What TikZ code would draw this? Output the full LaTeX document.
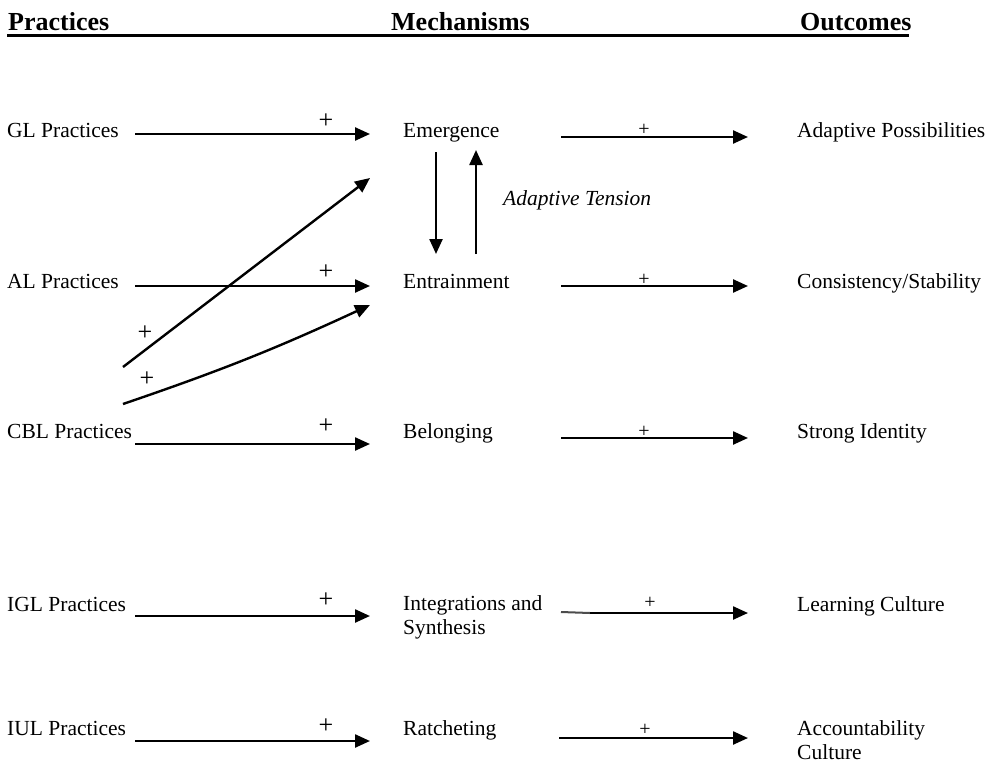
\documentclass[tikz,border=0pt]{standalone}
\usepackage{fontspec}
\setmainfont{Liberation Serif}
\usetikzlibrary{arrows.meta}
\begin{document}
\begin{tikzpicture}[x=1pt,y=-1pt,
  lbl/.style={anchor=base west, inner sep=0pt, font=\fontsize{21.5}{24}\selectfont},
  hdr/.style={anchor=base west, inner sep=0pt, font=\fontsize{26}{30}\selectfont\bfseries},
  link/.style={line width=2.4pt, -{Triangle[length=15pt,width=13pt]}},
  bigplus/.style={inner sep=0pt, font=\fontsize{26}{26}\selectfont},
  smallplus/.style={inner sep=0pt, font=\fontsize{20}{20}\selectfont},
]
\useasboundingbox (0,0) rectangle (993,763);
% headers
\node[hdr] (hP) at (8,30) {Practices};
\node[hdr] (hM) at (391,30) {Mechanisms};
\node[hdr] (hO) at (800,30) {Outcomes};
\coordinate (ulA) at (7,35);
\coordinate (ulB) at (909,35);
\draw[line width=3pt] (ulA) -- (ulB);
% left labels
\node[lbl] (pGL) at (7,137) {GL Practices};
\node[lbl] (pAL) at (7,288) {AL Practices};
\node[lbl] (pCBL) at (7,438) {CBL Practices};
\node[lbl] (pIGL) at (7,611) {IGL Practices};
\node[lbl] (pIUL) at (7,735) {IUL Practices};
% mechanisms
\node[lbl] (mE) at (403,137) {Emergence};
\node[lbl] (mEn) at (403,288) {Entrainment};
\node[lbl] (mB) at (403,438) {Belonging};
\node[lbl, align=left] (mI) at (403,634) {Integrations and\\Synthesis};
\node[lbl] (mR) at (403,735) {Ratcheting};
% outcomes
\node[lbl] (oA) at (797,137) {Adaptive Possibilities};
\node[lbl] (oC) at (797,288) {Consistency/Stability};
\node[lbl] (oS) at (797,438) {Strong Identity};
\node[lbl] (oL) at (797,611) {Learning Culture};
\node[lbl, align=left] (oAc) at (797,759) {Accountability\\Culture};
% left arrow end points
\coordinate (lGLs) at (135,134);  \coordinate (lGLe) at (370,134);
\coordinate (lALs) at (135,286);  \coordinate (lALe) at (370,286);
\coordinate (lCBs) at (135,444);  \coordinate (lCBe) at (370,444);
\coordinate (lIGs) at (135,616);  \coordinate (lIGe) at (370,616);
\coordinate (lIUs) at (135,741);  \coordinate (lIUe) at (370,741);
\draw[link] (lGLs) -- (lGLe);
\draw[link] (lALs) -- (lALe);
\draw[link] (lCBs) -- (lCBe);
\draw[link] (lIGs) -- (lIGe);
\draw[link] (lIUs) -- (lIUe);
% diagonal arrows
\coordinate (d1s) at (123,367); \coordinate (d1e) at (370,178);
\coordinate (d2s) at (123,404); \coordinate (d2e) at (370,305);
\draw[link] (d1s) -- (d1e);
\draw[link] (d2s) to[bend right=3] (d2e);
% right arrows
\coordinate (rGLs) at (561,137); \coordinate (rGLe) at (748,137);
\coordinate (rALs) at (561,286); \coordinate (rALe) at (748,286);
\coordinate (rCBs) at (561,438); \coordinate (rCBe) at (748,438);
\coordinate (rIGd) at (561,612); \coordinate (rIGs) at (590,613); \coordinate (rIGe) at (748,613);
\coordinate (rIUs) at (559,738); \coordinate (rIUe) at (748,738);
\draw[link] (rGLs) -- (rGLe);
\draw[link] (rALs) -- (rALe);
\draw[link] (rCBs) -- (rCBe);
\draw[line width=2pt, black!70] (rIGd) -- (rIGs);
\draw[link] (rIGs) -- (rIGe);
\draw[link] (rIUs) -- (rIUe);
% adaptive tension arrows
\coordinate (vDs) at (436,152); \coordinate (vDe) at (436,254);
\coordinate (vUs) at (476,254); \coordinate (vUe) at (476,150);
\draw[link] (vDs) -- (vDe);
\draw[link] (vUs) -- (vUe);
\node[lbl, font=\fontsize{21.5}{24}\selectfont\itshape] (at) at (503,205) {Adaptive Tension};
% plus signs
\node[bigplus] (p1) at (326,121) {+};
\node[bigplus] (p2) at (326,272) {+};
\node[bigplus] (p3) at (326,426) {+};
\node[bigplus] (p4) at (326,600) {+};
\node[bigplus] (p5) at (326,726) {+};
\node[bigplus] (p6) at (145,333) {+};
\node[bigplus] (p7) at (147,379) {+};
\node[smallplus] (q1) at (644,130) {+};
\node[smallplus] (q2) at (644,280) {+};
\node[smallplus] (q3) at (644,432) {+};
\node[smallplus] (q4) at (650,603) {+};
\node[smallplus] (q5) at (645,730) {+};
\end{tikzpicture}
\end{document}
